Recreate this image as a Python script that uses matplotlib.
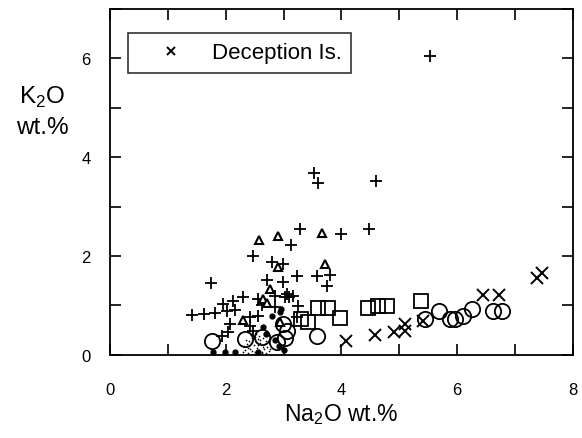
import matplotlib
matplotlib.use('Agg')
import matplotlib.pyplot as plt

plt.rcParams['font.family'] = ['Liberation Sans', 'DejaVu Sans']
plt.rcParams['mathtext.fontset'] = 'custom'
plt.rcParams['mathtext.rm'] = 'Liberation Sans'

# Na2O (x) and K2O (y) values, wt.%
plus_x = [5.53, 3.52, 3.60, 4.59, 3.28, 3.13, 4.00, 4.47, 2.47, 1.74, 2.80, 2.99,
          2.71, 2.99, 3.23, 3.58, 3.80, 3.75, 3.06, 3.16, 3.25, 1.42, 1.62, 1.82,
          2.02, 2.16, 2.42, 2.56, 3.23, 1.95, 2.12, 2.30, 2.56, 2.85, 3.02, 3.10,
          2.85, 2.07, 2.04, 1.93, 2.42, 2.47, 2.62]
plus_y = [6.05, 3.67, 3.48, 3.52, 2.55, 2.23, 2.45, 2.55, 1.99, 1.46, 1.87, 1.83,
          1.52, 1.48, 1.59, 1.59, 1.62, 1.38, 1.22, 1.18, 0.98, 0.80, 0.82, 0.84,
          0.88, 0.90, 0.76, 0.78, 0.76, 1.02, 1.08, 1.16, 1.12, 1.18, 1.16, 1.16,
          0.96, 0.62, 0.45, 0.37, 0.57, 0.47, 1.00]

tri_x = [2.57, 2.90, 3.66, 3.71, 2.90, 2.76, 2.64, 2.71, 2.30, 2.94]
tri_y = [2.32, 2.40, 2.47, 1.83, 1.77, 1.32, 1.12, 1.04, 0.70, 0.66]

sq_x = [3.59, 3.76, 3.97, 3.42, 3.30, 4.46, 4.63, 4.78, 5.37]
sq_y = [0.94, 0.94, 0.74, 0.66, 0.72, 0.94, 0.98, 0.98, 1.08]

circ_x = [1.76, 2.33, 2.99, 3.06, 3.02, 3.58, 5.44, 5.68, 5.87, 5.96, 6.10,
          6.25, 6.62, 6.77, 2.88, 2.62]
circ_y = [0.27, 0.31, 0.62, 0.47, 0.33, 0.37, 0.72, 0.88, 0.72, 0.72, 0.78,
          0.92, 0.88, 0.88, 0.25, 0.35]

dec_x = [4.08, 4.58, 4.90, 5.10, 5.10, 5.40, 6.44, 6.72, 7.37, 7.46]
dec_y = [0.27, 0.39, 0.45, 0.48, 0.62, 0.68, 1.20, 1.20, 1.56, 1.66]

dot_x = [2.80, 2.64, 2.94, 2.95, 1.78, 1.99, 2.16, 2.85, 2.92, 3.00, 2.70, 2.55]
dot_y = [0.78, 0.55, 0.86, 0.92, 0.05, 0.05, 0.05, 0.30, 0.18, 0.10, 0.42, 0.05]

# stippled patch of tiny dots
stip_x = [2.30, 2.34, 2.38, 2.42, 2.46, 2.50, 2.54, 2.58, 2.62, 2.66, 2.70, 2.74,
          2.32, 2.36, 2.40, 2.44, 2.48, 2.52, 2.56, 2.60, 2.64, 2.68, 2.72,
          2.35, 2.40, 2.45, 2.50, 2.55, 2.60, 2.65, 2.70, 2.44, 2.52, 2.58, 2.66,
          2.48, 2.54, 2.62, 2.38, 2.76]
stip_y = [0.06, 0.10, 0.04, 0.12, 0.08, 0.05, 0.14, 0.09, 0.06, 0.11, 0.04, 0.08,
          0.18, 0.22, 0.17, 0.24, 0.20, 0.26, 0.19, 0.23, 0.16, 0.21, 0.15,
          0.30, 0.28, 0.33, 0.36, 0.31, 0.29, 0.34, 0.27, 0.40, 0.42, 0.38, 0.44,
          0.02, 0.01, 0.03, 0.13, 0.12]

x_ticks = [0, 1, 2, 3, 4, 5, 6, 7, 8]
x_labels = ['0', '', '2', '', '4', '', '6', '', '8']
y_ticks = [0, 1, 2, 3, 4, 5, 6, 7]
y_labels = ['0', '', '2', '', '4', '', '6', '']

fig = plt.figure(figsize=(5.82, 4.39), dpi=100)
ax = fig.add_axes([0.189, 0.19, 0.7955, 0.787])

ax.scatter(stip_x, stip_y, s=1.5, c='black', marker='o', linewidths=0)
ax.plot(plus_x, plus_y, ls='none', marker='+', ms=9, mew=1.3, color='black')
ax.plot(tri_x, tri_y, ls='none', marker='^', ms=6, mew=1.5, mfc='white', mec='black')
ax.plot(sq_x, sq_y, ls='none', marker='s', ms=10, mew=1.3, mfc='none', mec='black')
ax.plot(circ_x, circ_y, ls='none', marker='o', ms=11, mew=1.3, mfc='none', mec='black')
ax.plot(dot_x, dot_y, ls='none', marker='o', ms=3.5, color='black')
ax.plot(dec_x, dec_y, ls='none', marker='x', ms=8, mew=1.4, color='black',
        label='Deception Is.')

ax.set_xlim(0, 8)
ax.set_ylim(0, 7)
ax.set_xticks(x_ticks)
ax.set_xticklabels(x_labels)
ax.set_yticks(y_ticks)
ax.set_yticklabels(y_labels)
ax.tick_params(direction='in', length=8, width=1.2, top=True, right=True,
               labelsize=12)
ax.tick_params(axis='x', pad=20)
ax.tick_params(axis='y', pad=14)
for s in ax.spines.values():
    s.set_linewidth(1.3)

leg = ax.legend(loc='upper left', bbox_to_anchor=(128 / 582, 1 - 34 / 439),
                bbox_transform=fig.transFigure, fontsize=16, frameon=True,
                fancybox=False, edgecolor='black', markerscale=0.7,
                handletextpad=0.35, borderpad=0.42, handlelength=3.0,
                borderaxespad=0)
leg.get_frame().set_linewidth(1.2)

ax.set_xlabel(r'Na$_2$O wt.%', fontsize=16.5, labelpad=3)
fig.text(42 / 582, 1 - 112 / 439, 'K$_2$O\nwt.%', fontsize=17.5,
         ha='center', va='center', linespacing=1.45)

fig.savefig('out.png', dpi=100)
